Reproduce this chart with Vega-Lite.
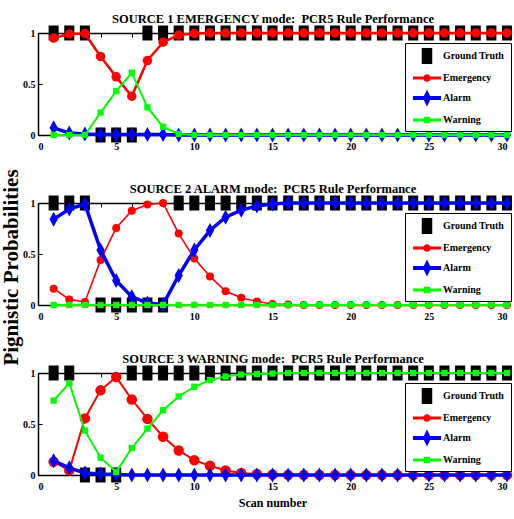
{
  "$schema": "https://vega.github.io/schema/vega-lite/v6.json",
  "background": "white",
  "padding": {"left": 0, "top": 12, "right": 0, "bottom": 2},
  "config": {
    "font": "Liberation Serif",
    "view": {"stroke": null},
    "axis": {
      "grid": false,
      "domainColor": "black",
      "domainWidth": 1.5,
      "tickColor": "black",
      "tickWidth": 1,
      "tickSize": -4,
      "labelFont": "Liberation Serif",
      "labelFontWeight": "bold",
      "labelFontSize": 10,
      "labelColor": "black",
      "titleFont": "Liberation Serif",
      "titleFontWeight": "bold",
      "titleColor": "black"
    },
    "axisX": {"labelPadding": 10},
    "axisY": {"labelPadding": 7, "format": "~g"},
    "axisTop": {"titleFontSize": 12.5, "titlePadding": 7, "labels": false, "values": [0, 5, 10, 15, 20, 25, 30]},
    "legend": {
      "orient": "none",
      "legendX": 367,
      "legendY": 10,
      "title": null,
      "strokeColor": "black",
      "fillColor": "white",
      "padding": 6,
      "labelFont": "Liberation Serif",
      "labelFontWeight": "bold",
      "labelFontSize": 10,
      "labelColor": "black",
      "symbolSize": 196,
      "symbolOffset": 9,
      "labelOffset": 9,
      "rowPadding": 6
    }
  },
  "data": {"values": [
    {"p":1,"x":1,"Ground Truth":1,"Emergency":0.95,"Alarm":0.07,"Warning":0},
    {"p":1,"x":2,"Ground Truth":1,"Emergency":0.99,"Alarm":0.02,"Warning":0},
    {"p":1,"x":3,"Ground Truth":1,"Emergency":0.995,"Alarm":0.01,"Warning":0},
    {"p":1,"x":4,"Ground Truth":0,"Emergency":0.77,"Alarm":0.005,"Warning":0.22},
    {"p":1,"x":5,"Ground Truth":0,"Emergency":0.57,"Alarm":0.005,"Warning":0.43},
    {"p":1,"x":6,"Ground Truth":0,"Emergency":0.38,"Alarm":0.005,"Warning":0.61},
    {"p":1,"x":7,"Ground Truth":1,"Emergency":0.73,"Alarm":0.005,"Warning":0.27},
    {"p":1,"x":8,"Ground Truth":1,"Emergency":0.91,"Alarm":0.005,"Warning":0.08},
    {"p":1,"x":9,"Ground Truth":1,"Emergency":0.98,"Alarm":0,"Warning":0.01},
    {"p":1,"x":10,"Ground Truth":1,"Emergency":0.995,"Alarm":0,"Warning":0},
    {"p":1,"x":11,"Ground Truth":1,"Emergency":1,"Alarm":0,"Warning":0},
    {"p":1,"x":12,"Ground Truth":1,"Emergency":1,"Alarm":0,"Warning":0},
    {"p":1,"x":13,"Ground Truth":1,"Emergency":1,"Alarm":0,"Warning":0},
    {"p":1,"x":14,"Ground Truth":1,"Emergency":1,"Alarm":0,"Warning":0},
    {"p":1,"x":15,"Ground Truth":1,"Emergency":1,"Alarm":0,"Warning":0},
    {"p":1,"x":16,"Ground Truth":1,"Emergency":1,"Alarm":0,"Warning":0},
    {"p":1,"x":17,"Ground Truth":1,"Emergency":1,"Alarm":0,"Warning":0},
    {"p":1,"x":18,"Ground Truth":1,"Emergency":1,"Alarm":0,"Warning":0},
    {"p":1,"x":19,"Ground Truth":1,"Emergency":1,"Alarm":0,"Warning":0},
    {"p":1,"x":20,"Ground Truth":1,"Emergency":1,"Alarm":0,"Warning":0},
    {"p":1,"x":21,"Ground Truth":1,"Emergency":1,"Alarm":0,"Warning":0},
    {"p":1,"x":22,"Ground Truth":1,"Emergency":1,"Alarm":0,"Warning":0},
    {"p":1,"x":23,"Ground Truth":1,"Emergency":1,"Alarm":0,"Warning":0},
    {"p":1,"x":24,"Ground Truth":1,"Emergency":1,"Alarm":0,"Warning":0},
    {"p":1,"x":25,"Ground Truth":1,"Emergency":1,"Alarm":0,"Warning":0},
    {"p":1,"x":26,"Ground Truth":1,"Emergency":1,"Alarm":0,"Warning":0},
    {"p":1,"x":27,"Ground Truth":1,"Emergency":1,"Alarm":0,"Warning":0},
    {"p":1,"x":28,"Ground Truth":1,"Emergency":1,"Alarm":0,"Warning":0},
    {"p":1,"x":29,"Ground Truth":1,"Emergency":1,"Alarm":0,"Warning":0},
    {"p":1,"x":30,"Ground Truth":1,"Emergency":1,"Alarm":0,"Warning":0},
    {"p":2,"x":1,"Ground Truth":1,"Emergency":0.16,"Alarm":0.84,"Warning":0},
    {"p":2,"x":2,"Ground Truth":1,"Emergency":0.055,"Alarm":0.94,"Warning":0},
    {"p":2,"x":3,"Ground Truth":1,"Emergency":0.03,"Alarm":0.99,"Warning":0},
    {"p":2,"x":4,"Ground Truth":0,"Emergency":0.44,"Alarm":0.54,"Warning":0},
    {"p":2,"x":5,"Ground Truth":0,"Emergency":0.755,"Alarm":0.24,"Warning":0},
    {"p":2,"x":6,"Ground Truth":0,"Emergency":0.925,"Alarm":0.08,"Warning":0},
    {"p":2,"x":7,"Ground Truth":0,"Emergency":0.985,"Alarm":0.02,"Warning":0},
    {"p":2,"x":8,"Ground Truth":0,"Emergency":1,"Alarm":0.005,"Warning":0},
    {"p":2,"x":9,"Ground Truth":1,"Emergency":0.7,"Alarm":0.29,"Warning":0},
    {"p":2,"x":10,"Ground Truth":1,"Emergency":0.455,"Alarm":0.54,"Warning":0},
    {"p":2,"x":11,"Ground Truth":1,"Emergency":0.28,"Alarm":0.73,"Warning":0},
    {"p":2,"x":12,"Ground Truth":1,"Emergency":0.135,"Alarm":0.86,"Warning":0},
    {"p":2,"x":13,"Ground Truth":1,"Emergency":0.07,"Alarm":0.93,"Warning":0},
    {"p":2,"x":14,"Ground Truth":1,"Emergency":0.035,"Alarm":0.97,"Warning":0},
    {"p":2,"x":15,"Ground Truth":1,"Emergency":0.01,"Alarm":0.99,"Warning":0},
    {"p":2,"x":16,"Ground Truth":1,"Emergency":0.005,"Alarm":1,"Warning":0},
    {"p":2,"x":17,"Ground Truth":1,"Emergency":0,"Alarm":1,"Warning":0},
    {"p":2,"x":18,"Ground Truth":1,"Emergency":0,"Alarm":1,"Warning":0},
    {"p":2,"x":19,"Ground Truth":1,"Emergency":0,"Alarm":1,"Warning":0},
    {"p":2,"x":20,"Ground Truth":1,"Emergency":0,"Alarm":1,"Warning":0},
    {"p":2,"x":21,"Ground Truth":1,"Emergency":0,"Alarm":1,"Warning":0},
    {"p":2,"x":22,"Ground Truth":1,"Emergency":0,"Alarm":1,"Warning":0},
    {"p":2,"x":23,"Ground Truth":1,"Emergency":0,"Alarm":1,"Warning":0},
    {"p":2,"x":24,"Ground Truth":1,"Emergency":0,"Alarm":1,"Warning":0},
    {"p":2,"x":25,"Ground Truth":1,"Emergency":0,"Alarm":1,"Warning":0},
    {"p":2,"x":26,"Ground Truth":1,"Emergency":0,"Alarm":1,"Warning":0},
    {"p":2,"x":27,"Ground Truth":1,"Emergency":0,"Alarm":1,"Warning":0},
    {"p":2,"x":28,"Ground Truth":1,"Emergency":0,"Alarm":1,"Warning":0},
    {"p":2,"x":29,"Ground Truth":1,"Emergency":0,"Alarm":1,"Warning":0},
    {"p":2,"x":30,"Ground Truth":1,"Emergency":0,"Alarm":1,"Warning":0},
    {"p":3,"x":1,"Ground Truth":1,"Emergency":0.13,"Alarm":0.14,"Warning":0.73},
    {"p":3,"x":2,"Ground Truth":1,"Emergency":0.045,"Alarm":0.07,"Warning":0.9},
    {"p":3,"x":3,"Ground Truth":0,"Emergency":0.555,"Alarm":0.02,"Warning":0.435},
    {"p":3,"x":4,"Ground Truth":0,"Emergency":0.83,"Alarm":0.01,"Warning":0.17},
    {"p":3,"x":5,"Ground Truth":0,"Emergency":0.96,"Alarm":0.005,"Warning":0.03},
    {"p":3,"x":6,"Ground Truth":1,"Emergency":0.74,"Alarm":0,"Warning":0.265},
    {"p":3,"x":7,"Ground Truth":1,"Emergency":0.55,"Alarm":0,"Warning":0.455},
    {"p":3,"x":8,"Ground Truth":1,"Emergency":0.375,"Alarm":0,"Warning":0.635},
    {"p":3,"x":9,"Ground Truth":1,"Emergency":0.24,"Alarm":0,"Warning":0.77},
    {"p":3,"x":10,"Ground Truth":1,"Emergency":0.145,"Alarm":0,"Warning":0.865},
    {"p":3,"x":11,"Ground Truth":1,"Emergency":0.09,"Alarm":0,"Warning":0.93},
    {"p":3,"x":12,"Ground Truth":1,"Emergency":0.045,"Alarm":0,"Warning":0.965},
    {"p":3,"x":13,"Ground Truth":1,"Emergency":0.02,"Alarm":0,"Warning":0.985},
    {"p":3,"x":14,"Ground Truth":1,"Emergency":0.01,"Alarm":0,"Warning":0.99},
    {"p":3,"x":15,"Ground Truth":1,"Emergency":0.005,"Alarm":0,"Warning":0.995},
    {"p":3,"x":16,"Ground Truth":1,"Emergency":0,"Alarm":0,"Warning":1},
    {"p":3,"x":17,"Ground Truth":1,"Emergency":0,"Alarm":0,"Warning":1},
    {"p":3,"x":18,"Ground Truth":1,"Emergency":0,"Alarm":0,"Warning":1},
    {"p":3,"x":19,"Ground Truth":1,"Emergency":0,"Alarm":0,"Warning":1},
    {"p":3,"x":20,"Ground Truth":1,"Emergency":0,"Alarm":0,"Warning":1},
    {"p":3,"x":21,"Ground Truth":1,"Emergency":0,"Alarm":0,"Warning":1},
    {"p":3,"x":22,"Ground Truth":1,"Emergency":0,"Alarm":0,"Warning":1},
    {"p":3,"x":23,"Ground Truth":1,"Emergency":0,"Alarm":0,"Warning":1},
    {"p":3,"x":24,"Ground Truth":1,"Emergency":0,"Alarm":0,"Warning":1},
    {"p":3,"x":25,"Ground Truth":1,"Emergency":0,"Alarm":0,"Warning":1},
    {"p":3,"x":26,"Ground Truth":1,"Emergency":0,"Alarm":0,"Warning":1},
    {"p":3,"x":27,"Ground Truth":1,"Emergency":0,"Alarm":0,"Warning":1},
    {"p":3,"x":28,"Ground Truth":1,"Emergency":0,"Alarm":0,"Warning":1},
    {"p":3,"x":29,"Ground Truth":1,"Emergency":0,"Alarm":0,"Warning":1},
    {"p":3,"x":30,"Ground Truth":1,"Emergency":0,"Alarm":0,"Warning":1}
  ]},
  "bounds": "flush",
  "spacing": 68,
  "resolve": {"legend": {"color": "independent"}},
  "vconcat": [
    {
      "width": 469, "height": 102,
      "transform": [{"filter": "datum.p == 1"}, {"fold": ["Ground Truth", "Emergency", "Alarm", "Warning"], "as": ["series", "prob"]}],
      "encoding": {
        "y": {"field": "prob", "type": "quantitative", "scale": {"domain": [0, 1], "nice": false}, "axis": {"values": [0, 0.5, 1], "title": null}},
        "color": {"field": "series", "type": "nominal", "sort": null,
          "scale": {"domain": ["Ground Truth", "Emergency", "Alarm", "Warning"], "range": ["#000000", "#ff0000", "#0000ff", "#00ff00"]},
          "legend": {"encode": {"symbols": {"update": {
            "shape": {"signal": "datum.value === 'Ground Truth' ? 'M-0.75,-1.15L0.75,-1.15L0.75,1.15L-0.75,1.15Z' : datum.value === 'Emergency' ? 'M-2,-0.2L2,-0.2L2,0.2L-2,0.2Z M-0.55,0A0.55,0.55 0 1,1 0.55,0A0.55,0.55 0 1,1 -0.55,0Z' : datum.value === 'Alarm' ? 'M-2,-0.28L2,-0.28L2,0.28L-2,0.28Z M0,-1.2L0.6,0L0,1.2L-0.6,0Z' : 'M-2,-0.2L2,-0.2L2,0.2L-2,0.2Z M-0.45,-0.45L0.45,-0.45L0.45,0.45L-0.45,0.45Z'"},
            "fill": {"signal": "datum.value === 'Ground Truth' ? '#000000' : datum.value === 'Emergency' ? '#ff0000' : datum.value === 'Alarm' ? '#0000ff' : '#00ff00'"},
            "strokeWidth": {"value": 0},
            "opacity": {"value": 1},
            "size": {"value": 196}}}}}
        }
      },
      "layer": [
        {"transform": [{"filter": "datum.series === 'Ground Truth'"}], "mark": {"type": "point", "filled": true, "opacity": 1, "shape": "M-0.67,-1L0.67,-1L0.67,1L-0.67,1Z", "size": 225},
          "encoding": {"x": {"field": "x", "type": "quantitative", "scale": {"domain": [0, 30], "nice": false}, "axis": {"values": [0, 5, 10, 15, 20, 25, 30], "title": null}}}},
        {"transform": [{"filter": "datum.series === 'Emergency'"}], "mark": {"type": "line", "strokeWidth": 2.5},
          "encoding": {"x": {"field": "x", "type": "quantitative", "scale": {"domain": [0, 30], "nice": false}, "axis": null}}},
        {"transform": [{"filter": "datum.series === 'Emergency'"}], "mark": {"type": "point", "filled": true, "opacity": 1, "shape": "circle", "size": 90},
          "encoding": {"x": {"field": "x", "type": "quantitative", "scale": {"domain": [0, 30], "nice": false}, "axis": null}}},
        {"transform": [{"filter": "datum.series === 'Alarm'"}], "mark": {"type": "line", "strokeWidth": 3.5},
          "encoding": {"x": {"field": "x", "type": "quantitative", "scale": {"domain": [0, 30], "nice": false}, "axis": null}}},
        {"transform": [{"filter": "datum.series === 'Alarm'"}], "mark": {"type": "point", "filled": true, "opacity": 1, "shape": "M0,-1L0.55,0L0,1L-0.55,0Z", "size": 225},
          "encoding": {"x": {"field": "x", "type": "quantitative", "scale": {"domain": [0, 30], "nice": false}, "axis": null}}},
        {"transform": [{"filter": "datum.series === 'Warning'"}], "mark": {"type": "line", "strokeWidth": 2},
          "encoding": {"x": {"field": "x", "type": "quantitative", "scale": {"domain": [0, 30], "nice": false}, "axis": null}}},
        {"transform": [{"filter": "datum.series === 'Warning'"}], "mark": {"type": "point", "filled": true, "opacity": 1, "shape": "square", "size": 40},
          "encoding": {"x": {"field": "x", "type": "quantitative", "scale": {"domain": [0, 30], "nice": false}, "axis": null}}},
        {"mark": {"type": "rule", "opacity": 0},
          "encoding": {"x": {"field": "x", "type": "quantitative", "scale": {"domain": [0, 30], "nice": false}, "axis": {"orient": "top", "title": "SOURCE 1 EMERGENCY mode:\u00a0 PCR5 Rule Performance"}}, "y": null, "color": null}}
      ],
      "resolve": {"axis": {"x": "independent"}}
    },
    {
      "width": 469, "height": 102,
      "transform": [{"filter": "datum.p == 2"}, {"fold": ["Ground Truth", "Emergency", "Alarm", "Warning"], "as": ["series", "prob"]}],
      "encoding": {
        "y": {"field": "prob", "type": "quantitative", "scale": {"domain": [0, 1], "nice": false}, "axis": {"values": [0, 0.5, 1], "title": "Pignistic Probabilities", "titleFontSize": 21, "titlePadding": 1, "titleY": 64}},
        "color": {"field": "series", "type": "nominal", "sort": null,
          "scale": {"domain": ["Ground Truth", "Emergency", "Alarm", "Warning"], "range": ["#000000", "#ff0000", "#0000ff", "#00ff00"]},
          "legend": {"encode": {"symbols": {"update": {
            "shape": {"signal": "datum.value === 'Ground Truth' ? 'M-0.75,-1.15L0.75,-1.15L0.75,1.15L-0.75,1.15Z' : datum.value === 'Emergency' ? 'M-2,-0.2L2,-0.2L2,0.2L-2,0.2Z M-0.55,0A0.55,0.55 0 1,1 0.55,0A0.55,0.55 0 1,1 -0.55,0Z' : datum.value === 'Alarm' ? 'M-2,-0.28L2,-0.28L2,0.28L-2,0.28Z M0,-1.2L0.6,0L0,1.2L-0.6,0Z' : 'M-2,-0.2L2,-0.2L2,0.2L-2,0.2Z M-0.45,-0.45L0.45,-0.45L0.45,0.45L-0.45,0.45Z'"},
            "fill": {"signal": "datum.value === 'Ground Truth' ? '#000000' : datum.value === 'Emergency' ? '#ff0000' : datum.value === 'Alarm' ? '#0000ff' : '#00ff00'"},
            "strokeWidth": {"value": 0},
            "opacity": {"value": 1},
            "size": {"value": 196}}}}}
        }
      },
      "layer": [
        {"transform": [{"filter": "datum.series === 'Ground Truth'"}], "mark": {"type": "point", "filled": true, "opacity": 1, "shape": "M-0.67,-1L0.67,-1L0.67,1L-0.67,1Z", "size": 225},
          "encoding": {"x": {"field": "x", "type": "quantitative", "scale": {"domain": [0, 30], "nice": false}, "axis": {"values": [0, 5, 10, 15, 20, 25, 30], "title": null}}}},
        {"transform": [{"filter": "datum.series === 'Emergency'"}], "mark": {"type": "line", "strokeWidth": 1.6},
          "encoding": {"x": {"field": "x", "type": "quantitative", "scale": {"domain": [0, 30], "nice": false}, "axis": null}}},
        {"transform": [{"filter": "datum.series === 'Emergency'"}], "mark": {"type": "point", "filled": true, "opacity": 1, "shape": "circle", "size": 64},
          "encoding": {"x": {"field": "x", "type": "quantitative", "scale": {"domain": [0, 30], "nice": false}, "axis": null}}},
        {"transform": [{"filter": "datum.series === 'Alarm'"}], "mark": {"type": "line", "strokeWidth": 3.5},
          "encoding": {"x": {"field": "x", "type": "quantitative", "scale": {"domain": [0, 30], "nice": false}, "axis": null}}},
        {"transform": [{"filter": "datum.series === 'Alarm'"}], "mark": {"type": "point", "filled": true, "opacity": 1, "shape": "M0,-1L0.55,0L0,1L-0.55,0Z", "size": 225},
          "encoding": {"x": {"field": "x", "type": "quantitative", "scale": {"domain": [0, 30], "nice": false}, "axis": null}}},
        {"transform": [{"filter": "datum.series === 'Warning'"}], "mark": {"type": "line", "strokeWidth": 2},
          "encoding": {"x": {"field": "x", "type": "quantitative", "scale": {"domain": [0, 30], "nice": false}, "axis": null}}},
        {"transform": [{"filter": "datum.series === 'Warning'"}], "mark": {"type": "point", "filled": true, "opacity": 1, "shape": "square", "size": 40},
          "encoding": {"x": {"field": "x", "type": "quantitative", "scale": {"domain": [0, 30], "nice": false}, "axis": null}}},
        {"mark": {"type": "rule", "opacity": 0},
          "encoding": {"x": {"field": "x", "type": "quantitative", "scale": {"domain": [0, 30], "nice": false}, "axis": {"orient": "top", "title": "SOURCE 2 ALARM mode:\u00a0 PCR5 Rule Performance"}}, "y": null, "color": null}}
      ],
      "resolve": {"axis": {"x": "independent"}}
    },
    {
      "width": 469, "height": 102,
      "transform": [{"filter": "datum.p == 3"}, {"fold": ["Ground Truth", "Emergency", "Alarm", "Warning"], "as": ["series", "prob"]}],
      "encoding": {
        "y": {"field": "prob", "type": "quantitative", "scale": {"domain": [0, 1], "nice": false}, "axis": {"values": [0, 0.5, 1], "title": null}},
        "color": {"field": "series", "type": "nominal", "sort": null,
          "scale": {"domain": ["Ground Truth", "Emergency", "Alarm", "Warning"], "range": ["#000000", "#ff0000", "#0000ff", "#00ff00"]},
          "legend": {"encode": {"symbols": {"update": {
            "shape": {"signal": "datum.value === 'Ground Truth' ? 'M-0.75,-1.15L0.75,-1.15L0.75,1.15L-0.75,1.15Z' : datum.value === 'Emergency' ? 'M-2,-0.2L2,-0.2L2,0.2L-2,0.2Z M-0.55,0A0.55,0.55 0 1,1 0.55,0A0.55,0.55 0 1,1 -0.55,0Z' : datum.value === 'Alarm' ? 'M-2,-0.28L2,-0.28L2,0.28L-2,0.28Z M0,-1.2L0.6,0L0,1.2L-0.6,0Z' : 'M-2,-0.2L2,-0.2L2,0.2L-2,0.2Z M-0.45,-0.45L0.45,-0.45L0.45,0.45L-0.45,0.45Z'"},
            "fill": {"signal": "datum.value === 'Ground Truth' ? '#000000' : datum.value === 'Emergency' ? '#ff0000' : datum.value === 'Alarm' ? '#0000ff' : '#00ff00'"},
            "strokeWidth": {"value": 0},
            "opacity": {"value": 1},
            "size": {"value": 196}}}}}
        }
      },
      "layer": [
        {"transform": [{"filter": "datum.series === 'Ground Truth'"}], "mark": {"type": "point", "filled": true, "opacity": 1, "shape": "M-0.67,-1L0.67,-1L0.67,1L-0.67,1Z", "size": 225},
          "encoding": {"x": {"field": "x", "type": "quantitative", "scale": {"domain": [0, 30], "nice": false}, "axis": {"values": [0, 5, 10, 15, 20, 25, 30], "title": "Scan number", "titleFontSize": 12, "titlePadding": 6}}}},
        {"transform": [{"filter": "datum.series === 'Emergency'"}], "mark": {"type": "line", "strokeWidth": 2},
          "encoding": {"x": {"field": "x", "type": "quantitative", "scale": {"domain": [0, 30], "nice": false}, "axis": null}}},
        {"transform": [{"filter": "datum.series === 'Emergency'"}], "mark": {"type": "point", "filled": true, "opacity": 1, "shape": "circle", "size": 110},
          "encoding": {"x": {"field": "x", "type": "quantitative", "scale": {"domain": [0, 30], "nice": false}, "axis": null}}},
        {"transform": [{"filter": "datum.series === 'Alarm'"}], "mark": {"type": "line", "strokeWidth": 3.5},
          "encoding": {"x": {"field": "x", "type": "quantitative", "scale": {"domain": [0, 30], "nice": false}, "axis": null}}},
        {"transform": [{"filter": "datum.series === 'Alarm'"}], "mark": {"type": "point", "filled": true, "opacity": 1, "shape": "M0,-1L0.55,0L0,1L-0.55,0Z", "size": 225},
          "encoding": {"x": {"field": "x", "type": "quantitative", "scale": {"domain": [0, 30], "nice": false}, "axis": null}}},
        {"transform": [{"filter": "datum.series === 'Warning'"}], "mark": {"type": "line", "strokeWidth": 2},
          "encoding": {"x": {"field": "x", "type": "quantitative", "scale": {"domain": [0, 30], "nice": false}, "axis": null}}},
        {"transform": [{"filter": "datum.series === 'Warning'"}], "mark": {"type": "point", "filled": true, "opacity": 1, "shape": "square", "size": 40},
          "encoding": {"x": {"field": "x", "type": "quantitative", "scale": {"domain": [0, 30], "nice": false}, "axis": null}}},
        {"mark": {"type": "rule", "opacity": 0},
          "encoding": {"x": {"field": "x", "type": "quantitative", "scale": {"domain": [0, 30], "nice": false}, "axis": {"orient": "top", "title": "SOURCE 3 WARNING mode:\u00a0 PCR5 Rule Performance"}}, "y": null, "color": null}}
      ],
      "resolve": {"axis": {"x": "independent"}}
    }
  ]
}
